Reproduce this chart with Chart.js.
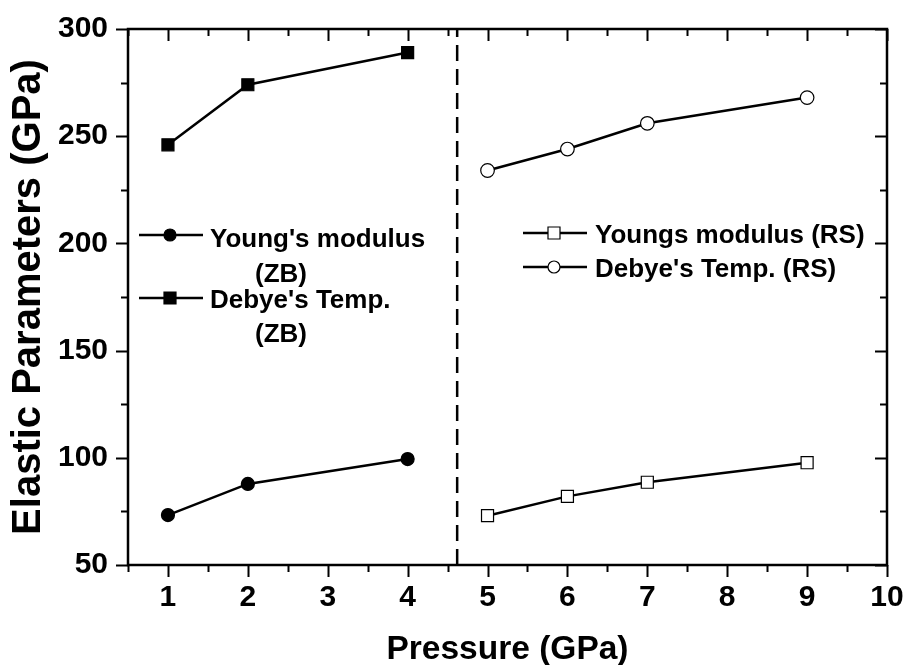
<!DOCTYPE html>
<html>
<head>
<meta charset="utf-8">
<script src="https://cdn.jsdelivr.net/npm/chart.js@4/dist/chart.umd.min.js"></script>
<style>
  html, body { margin: 0; padding: 0; background: #fff; }
</style>
</head>
<body>
<canvas id="chart" width="905" height="665"></canvas>
<script>
// zinc blende phase
const pressureZB = [1, 2, 4];
const youngZB = [73.3, 87.8, 99.4];
const debyeZB = [246, 274, 289];

// rock salt phase
const pressureRS = [5, 6, 7, 9];
const youngRS = [73, 82, 88.6, 97.7];
const debyeRS = [234, 244, 256, 268];

// phase transition marker
const transitionP = 4.62;

const xMin = 0.5, xMax = 10;
const yMin = 50, yMax = 300;

const FONT = "'Liberation Sans', Arial, sans-serif";

function pts(xs, ys) {
  return xs.map((x, i) => ({ x: x, y: ys[i] }));
}

// frame, minor/major ticks and the two hand-placed legends
const decor = {
  id: "decor",
  afterDraw(chart) {
    const ctx = chart.ctx;
    const a = chart.chartArea;
    const sx = chart.scales.x, sy = chart.scales.y;
    ctx.save();
    ctx.strokeStyle = "#000";
    ctx.lineWidth = 2;
    ctx.beginPath();
    for (let v = xMin; v <= xMax + 1e-9; v += 0.5) {
      const px = Math.round(sx.getPixelForValue(v)) + 0.5;
      const len = Number.isInteger(v) ? 12 : 7;
      ctx.moveTo(px, a.bottom); ctx.lineTo(px, a.bottom + len);
      ctx.moveTo(px, a.top); ctx.lineTo(px, a.top + len);
    }
    for (let v = yMin; v <= yMax; v += 25) {
      const py = Math.round(sy.getPixelForValue(v)) + 0.5;
      const len = v % 50 === 0 ? 12 : 7;
      ctx.moveTo(a.left - len, py); ctx.lineTo(a.left, py);
      ctx.moveTo(a.right - len, py); ctx.lineTo(a.right, py);
    }
    ctx.stroke();
    ctx.lineWidth = 2.5;
    ctx.strokeRect(a.left, a.top, a.right - a.left, a.bottom - a.top);

    // legends
    function sample(cx, cy, shape, filled) {
      ctx.lineWidth = 2.5;
      ctx.beginPath();
      ctx.moveTo(cx - 31, cy); ctx.lineTo(cx + 33, cy);
      ctx.stroke();
      ctx.fillStyle = filled ? "#000" : "#fff";
      ctx.lineWidth = 1.2;
      ctx.beginPath();
      if (shape === "circle") ctx.arc(cx, cy, 6, 0, Math.PI * 2);
      else ctx.rect(cx - 6, cy - 6, 12, 12);
      ctx.fill();
      ctx.stroke();
    }
    ctx.font = "bold 26px " + FONT;
    ctx.textBaseline = "alphabetic";
    ctx.textAlign = "left";

    sample(170, 235, "circle", true);
    ctx.fillStyle = "#000";
    ctx.fillText("Young's modulus", 210, 247);
    ctx.fillText("(ZB)", 255, 282);
    sample(170, 298, "rect", true);
    ctx.fillStyle = "#000";
    ctx.fillText("Debye's Temp.", 210, 308);
    ctx.fillText("(ZB)", 255, 342);

    sample(554, 233, "rect", false);
    ctx.fillStyle = "#000";
    ctx.fillText("Youngs modulus (RS)", 595, 243);
    sample(554, 267, "circle", false);
    ctx.fillStyle = "#000";
    ctx.fillText("Debye's Temp. (RS)", 595, 277);
    ctx.restore();
  }
};

const lineBase = {
  borderColor: "#000",
  borderWidth: 2.5,
  pointBorderColor: "#000",
  pointBorderWidth: 1.2,
  tension: 0
};

new Chart(document.getElementById("chart").getContext("2d"), {
  type: "line",
  data: {
    datasets: [
      Object.assign({}, lineBase, {
        label: "Young's modulus (ZB)",
        data: pts(pressureZB, youngZB),
        pointStyle: "circle", pointRadius: 6.5,
        pointBackgroundColor: "#000"
      }),
      Object.assign({}, lineBase, {
        label: "Debye's Temp. (ZB)",
        data: pts(pressureZB, debyeZB),
        pointStyle: "rect", pointRadius: 8.5,
        pointBackgroundColor: "#000"
      }),
      Object.assign({}, lineBase, {
        label: "Youngs modulus (RS)",
        data: pts(pressureRS, youngRS),
        pointStyle: "rect", pointRadius: 8.5,
        pointBackgroundColor: "#fff"
      }),
      Object.assign({}, lineBase, {
        label: "Debye's Temp. (RS)",
        data: pts(pressureRS, debyeRS),
        pointStyle: "circle", pointRadius: 6.8,
        pointBackgroundColor: "#fff"
      }),
      {
        label: "transition",
        data: pts([transitionP, transitionP], [yMin, yMax]),
        borderColor: "#000",
        borderWidth: 2.5,
        borderDash: [16, 8],
        pointRadius: 0
      }
    ]
  },
  options: {
    responsive: false,
    animation: false,
    devicePixelRatio: 1,
    layout: { padding: { top: 29, right: 18, left: 0, bottom: 0 } },
    plugins: {
      legend: { display: false },
      tooltip: { enabled: false }
    },
    scales: {
      x: {
        type: "linear",
        min: xMin,
        max: xMax,
        grid: { display: false, drawTicks: false, tickLength: 0 },
        border: { display: false },
        ticks: {
          stepSize: 0.5,
          autoSkip: false,
          maxRotation: 0,
          padding: 15,
          color: "#000",
          font: { family: FONT, size: 30, weight: "bold" },
          callback: v => Number.isInteger(v) ? v : ""
        },
        title: {
          display: true,
          text: "Pressure (GPa)",
          color: "#000",
          font: { family: FONT, size: 33.5, weight: "bold" },
          padding: { top: 0, bottom: -5 }
        },
        afterFit: s => {
          s.height = 100;
          s.paddingLeft = 0;
          s.paddingRight = 0;
        }
      },
      y: {
        min: yMin,
        max: yMax,
        grid: { display: false, drawTicks: false, tickLength: 0 },
        border: { display: false },
        ticks: {
          stepSize: 25,
          autoSkip: false,
          padding: 20,
          color: "#000",
          font: { family: FONT, size: 30, weight: "bold" },
          callback: v => v % 50 === 0 ? v : ""
        },
        title: {
          display: true,
          text: "Elastic Parameters (GPa)",
          color: "#000",
          font: { family: FONT, size: 40, weight: "bold" },
          padding: { top: 5, bottom: 0 }
        },
        afterFit: s => {
          s.width = 128;
          s.paddingTop = 0;
          s.paddingBottom = 0;
        }
      }
    }
  },
  plugins: [decor]
});
</script>
</body>
</html>
